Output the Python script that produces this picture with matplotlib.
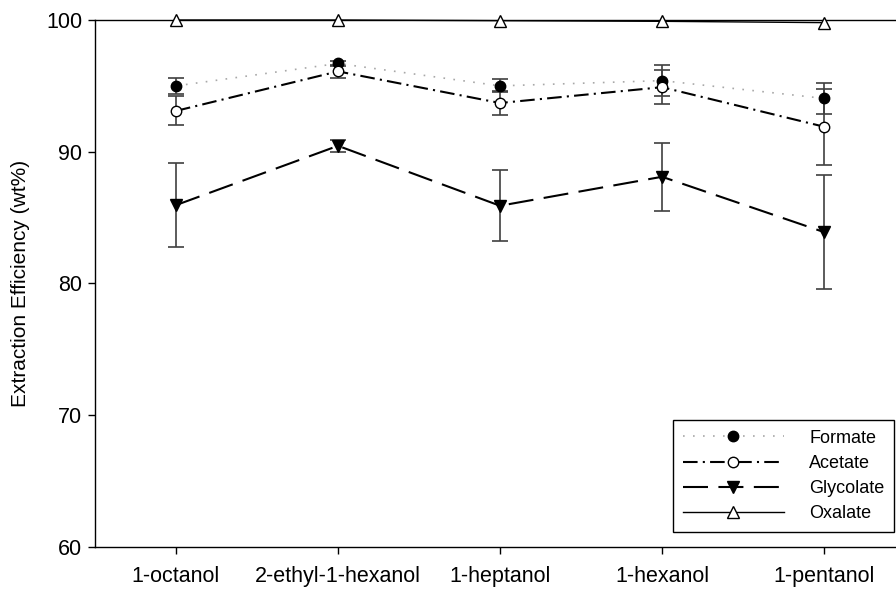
import matplotlib
matplotlib.use("Agg")
import matplotlib.pyplot as plt
from matplotlib.lines import Line2D

plt.rcParams['font.family'] = ['Liberation Sans', 'DejaVu Sans']

solvents = ["1-octanol", "2-ethyl-1-hexanol", "1-heptanol", "1-hexanol", "1-pentanol"]

formate = [95.0, 96.7, 95.0, 95.4, 94.05]
formate_err = [0.6, 0.2, 0.5, 1.2, 1.15]

acetate = [93.1, 96.1, 93.7, 94.9, 91.9]
acetate_err = [1.1, 0.5, 0.9, 1.3, 2.9]

glycolate = [85.95, 90.45, 85.9, 88.1, 83.9]
glycolate_err = [3.2, 0.45, 2.7, 2.6, 4.3]

oxalate = [100.0, 100.0, 99.95, 99.9, 99.8]

x = list(range(1, len(solvents) + 1))

fig = plt.figure(figsize=(8.96, 5.9), dpi=100)
ax = fig.add_axes([0.106, 0.0729, 0.894, 0.8932])

err_kw = dict(ecolor="#404040", elinewidth=1.2, capsize=6, capthick=1.2)

#Style of each series, shared by the plot and the legend
styles = {
    "Formate": dict(color="#a8a8a8", linestyle=(0, (1, 5)), linewidth=1.2, marker="o", markersize=7.5,
                    markerfacecolor="black", markeredgecolor="black"),
    "Acetate": dict(color="black", linestyle=(0, (7, 2.5, 1, 2.5)), linewidth=1.5, marker="o", markersize=7.5,
                    markerfacecolor="white", markeredgecolor="black"),
    "Glycolate": dict(color="black", linestyle=(0, (12, 5)), linewidth=1.5, marker="v", markersize=8,
                      markerfacecolor="black", markeredgecolor="black"),
    "Oxalate": dict(color="black", linestyle="-", linewidth=1.0, marker="^", markersize=8,
                    markerfacecolor="white", markeredgecolor="black"),
}

ax.errorbar(x, formate, yerr=formate_err, zorder=3, **styles["Formate"], **err_kw)
ax.errorbar(x, acetate, yerr=acetate_err, zorder=3, **styles["Acetate"], **err_kw)
ax.errorbar(x, glycolate, yerr=glycolate_err, zorder=3, **styles["Glycolate"], **err_kw)
ax.plot(x, oxalate, zorder=4, clip_on=False, **styles["Oxalate"])

ax.set_xlim(0.5, 5.444)
ax.set_ylim(60, 100)
ax.set_xticks(x)
ax.set_xticklabels(solvents)
ax.set_yticks([60, 70, 80, 90, 100])
ax.tick_params(direction="out", length=5, width=1, labelsize=15.5, pad=4)
ax.tick_params(axis="x", pad=9)
ax.spines["right"].set_visible(False)
for s in ["left", "bottom", "top"]:
    ax.spines[s].set_linewidth(1.0)

ax.set_ylabel("Extraction Efficiency (wt%)", fontsize=15, labelpad=12)

#Legend handles without the error bars
handles = [Line2D([], [], **st) for st in styles.values()]
leg = ax.legend(handles, list(styles.keys()), loc="lower right", bbox_to_anchor=(0.998, 0.0983),
                bbox_transform=fig.transFigure, borderaxespad=0, fontsize=13, handlelength=5.6,
                handletextpad=1.4, labelspacing=0.45, fancybox=False, edgecolor="black",
                framealpha=1, borderpad=0.55)
leg.get_frame().set_linewidth(1.0)

fig.savefig("out.png", dpi=100)
